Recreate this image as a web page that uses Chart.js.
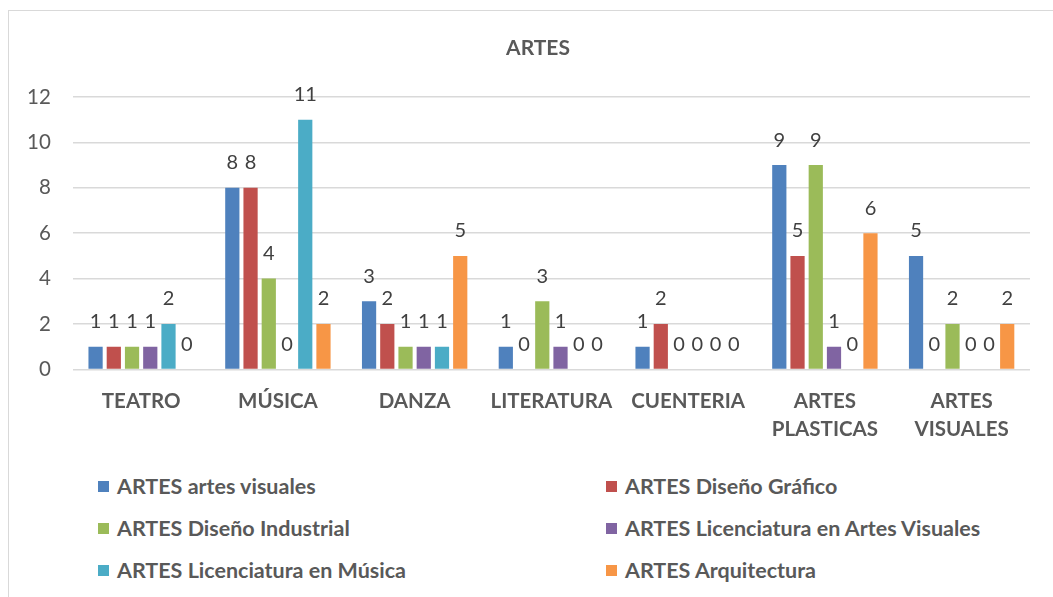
<!DOCTYPE html>
<html>
<head>
<meta charset="utf-8">
<script src="https://cdn.jsdelivr.net/npm/chart.js@4/dist/chart.umd.min.js"></script>
<style>
  html, body { margin: 0; padding: 0; background: #fff; }
  body { width: 1053px; height: 597px; position: relative; overflow: hidden; font-family: Lato, "Open Sans", sans-serif; }
  #frame { position: absolute; left: 8px; top: 10px; width: 1100px; height: 700px; border: 1px solid #d9d9d9; }
  #title { position: absolute; left: 0; top: 33px; width: 1076px; text-align: center; font-weight: bold; font-size: 21px; color: #595959; line-height: 28px; }
  #wrap { position: absolute; left: 0; top: 0; width: 1053px; height: 462px; }
  #legend { position: absolute; left: 98px; top: 472px; width: 900px; }
  .lg-item { position: absolute; display: flex; align-items: center; font-weight: bold; font-size: 21.5px; color: #595959; white-space: nowrap; line-height: 28px; }
  .lg-box { width: 11px; height: 11px; margin-right: 8px; }
</style>
</head>
<body>
<div id="frame"></div>
<div id="wrap"><canvas id="chart"></canvas></div>
<div id="title">ARTES</div>
<div id="legend"></div>
<script>
// categorías y series
const categories = ['TEATRO', 'MÚSICA', 'DANZA', 'LITERATURA', 'CUENTERIA', ['ARTES', 'PLASTICAS'], ['ARTES', 'VISUALES']];
const seriesNames = [
  'ARTES artes visuales',
  'ARTES Diseño Gráfico',
  'ARTES Diseño Industrial',
  'ARTES Licenciatura en Artes Visuales',
  'ARTES Licenciatura en Música',
  'ARTES Arquitectura'
];
const seriesColors = ['#4F81BD', '#C0504D', '#9BBB59', '#8064A2', '#4BACC6', '#F79646'];
const artesVisuales    = [1, 8, 3, 1, 1, 9, 5];
const disenoGrafico    = [1, 8, 2, 0, 2, 5, 0];
const disenoIndustrial = [1, 4, 1, 3, 0, 9, 2];
const licArtesVisuales = [1, 0, 1, 1, 0, 1, 0];
const licMusica        = [2, 11, 1, 0, 0, 0, 0];
const arquitectura     = [0, 2, 5, 0, 0, 6, 2];
const yTicks = [0, 2, 4, 6, 8, 10, 12];

const seriesValues = [artesVisuales, disenoGrafico, disenoIndustrial, licArtesVisuales, licMusica, arquitectura];
const FONT = 'Lato, "Open Sans", sans-serif';

// etiquetas de valor encima de cada barra
const valueLabels = {
  id: 'valueLabels',
  afterDatasetsDraw(chart) {
    const ctx = chart.ctx;
    ctx.save();
    ctx.font = '20px ' + FONT;
    ctx.fillStyle = '#404040';
    ctx.textAlign = 'center';
    ctx.textBaseline = 'middle';
    chart.data.datasets.forEach((ds, i) => {
      const meta = chart.getDatasetMeta(i);
      meta.data.forEach((bar, j) => {
        ctx.fillText(String(ds.data[j]), bar.x, bar.y - 25);
      });
    });
    ctx.restore();
  }
};

const chart = new Chart(document.getElementById('chart'), {
  type: 'bar',
  data: {
    labels: categories,
    datasets: seriesNames.map((name, i) => ({
      label: name,
      data: seriesValues[i],
      backgroundColor: seriesColors[i],
      borderWidth: 0,
      categoryPercentage: 0.8,
      barPercentage: 0.78
    }))
  },
  options: {
    responsive: true,
    maintainAspectRatio: false,
    animation: false,
    layout: { padding: { left: 5, right: 23, top: 97, bottom: 8 } },
    plugins: {
      legend: { display: false },
      tooltip: { enabled: false },
      title: { display: false }
    },
    scales: {
      x: {
        grid: { display: false },
        border: { display: false },
        ticks: {
          color: '#595959',
          maxRotation: 0,
          autoSkip: false,
          font: { family: FONT, size: 20.5, weight: 'bold', lineHeight: 1.38 },
          padding: 10
        }
      },
      y: {
        min: 0,
        max: 12,
        afterBuildTicks(axis) { axis.ticks = yTicks.map(v => ({ value: v })); },
        grid: { color: '#d9d9d9', lineWidth: 1.5, drawTicks: false },
        border: { display: false },
        ticks: {
          color: '#595959',
          font: { family: FONT, size: 20.5 },
          padding: 22
        }
      }
    }
  },
  plugins: [valueLabels]
});

// leyenda en dos columnas
const legendEl = document.getElementById('legend');
legendEl.innerHTML = seriesNames.map((name, i) => {
  const col = i % 2, row = Math.floor(i / 2);
  return `<div class="lg-item" style="left:${col * 508}px;top:${row * 42}px">` +
    `<span class="lg-box" style="background:${seriesColors[i]}"></span>${name}</div>`;
}).join('');
</script>
</body>
</html>
